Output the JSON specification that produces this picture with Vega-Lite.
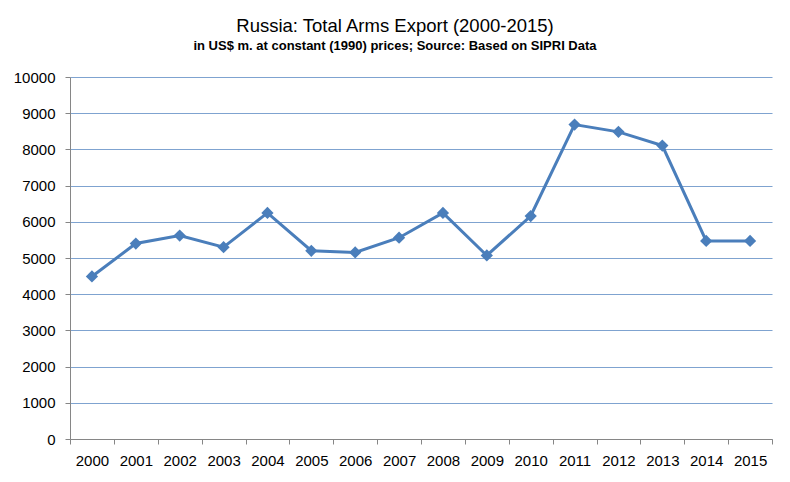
{
  "$schema": "https://vega.github.io/schema/vega-lite/v6.json",
  "autosize": "none",
  "width": 702,
  "height": 362,
  "padding": {"left": 70, "top": 77, "right": 18, "bottom": 43},
  "background": "white",
  "title": {
    "text": "Russia: Total Arms Export (2000-2015)",
    "subtitle": "in US$ m. at constant (1990) prices; Source:  Based on SIPRI Data",
    "anchor": "middle",
    "dx": -26,
    "offset": 17,
    "font": "Liberation Sans",
    "fontSize": 18.5,
    "fontWeight": "normal",
    "color": "#000000",
    "subtitleFont": "Liberation Sans",
    "subtitleFontSize": 13,
    "subtitleFontWeight": "bold",
    "subtitleColor": "#000000",
    "subtitlePadding": 5
  },
  "data": {
    "values": [
      {"year": "2000", "value": 4490},
      {"year": "2001", "value": 5400},
      {"year": "2002", "value": 5620},
      {"year": "2003", "value": 5300},
      {"year": "2004", "value": 6245},
      {"year": "2005", "value": 5200},
      {"year": "2006", "value": 5155},
      {"year": "2007", "value": 5560},
      {"year": "2008", "value": 6245},
      {"year": "2009", "value": 5070},
      {"year": "2010", "value": 6160},
      {"year": "2011", "value": 8685},
      {"year": "2012", "value": 8485},
      {"year": "2013", "value": 8105},
      {"year": "2014", "value": 5470},
      {"year": "2015", "value": 5470}
    ]
  },
  "mark": {
    "type": "line",
    "color": "#4A7EBB",
    "strokeWidth": 3,
    "point": {"shape": "diamond", "size": 150, "filled": true, "color": "#4A7EBB", "opacity": 1}
  },
  "encoding": {
    "x": {
      "field": "year",
      "type": "ordinal",
      "scale": {"type": "band", "paddingInner": 0, "paddingOuter": 0},
      "axis": {
        "title": null,
        "labelAngle": 0,
        "tickBand": "extent",
        "tickSize": 5,
        "tickColor": "#868686",
        "domainColor": "#868686",
        "labelFont": "Liberation Sans",
        "labelFontSize": 15,
        "labelColor": "#000000",
        "labelPadding": 9,
        "grid": false
      }
    },
    "y": {
      "field": "value",
      "type": "quantitative",
      "scale": {"domain": [0, 10000], "nice": false},
      "axis": {
        "title": null,
        "values": [0, 1000, 2000, 3000, 4000, 5000, 6000, 7000, 8000, 9000, 10000],
        "format": "d",
        "grid": true,
        "gridColor": "#7FA3D0",
        "gridWidth": 1.2,
        "tickSize": 5,
        "tickColor": "#868686",
        "domainColor": "#868686",
        "labelFont": "Liberation Sans",
        "labelFontSize": 15,
        "labelColor": "#000000",
        "labelPadding": 10
      }
    }
  },
  "config": {
    "view": {"stroke": null}
  }
}
